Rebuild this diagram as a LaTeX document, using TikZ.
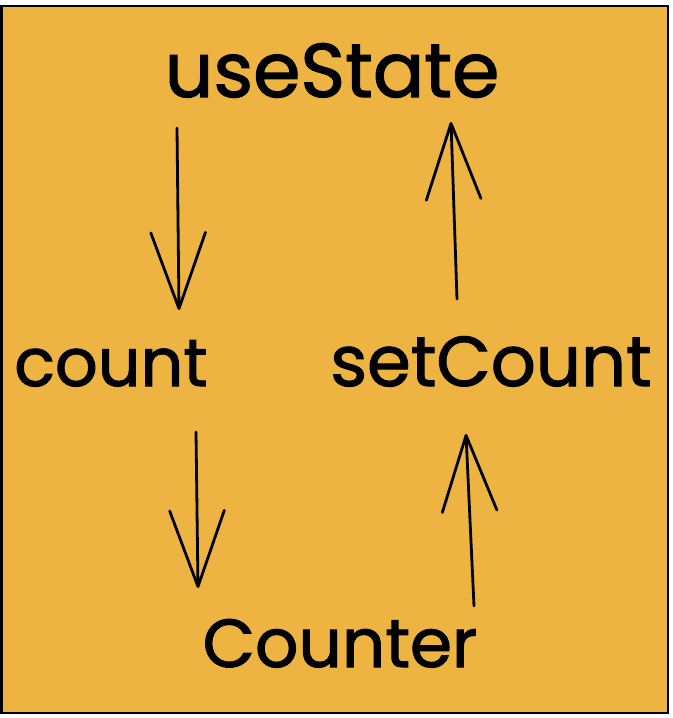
\documentclass[tikz,border=0pt]{standalone}
\usepackage{fontspec}
\setmainfont{Poppins}
\newfontfamily\lblfont[FakeBold=1.6]{Poppins}
\usetikzlibrary{arrows.meta}
\definecolor{bgorange}{RGB}{238,180,66}
\tikzset{
  lbl/.style={anchor=base, inner sep=0pt, font=\fontsize{44}{50}\lblfont},
  flow/.style={line width=2.1pt, line cap=round, line join=round,
    -{Straight Barb[length=57pt,width=41pt,line width=2.1pt,round]}},
  frame/.style={fill=bgorange, draw=black, line width=1.8pt}
}
\begin{document}
\begin{tikzpicture}[x=0.75pt,y=-0.75pt]
\useasboundingbox (0,0) rectangle (672,718);
\draw[frame] (1.5,6) rectangle (668,713);
\node[lbl] (us) at (332,97) {\resizebox{251pt}{!}{useState}};
\node[lbl] (ct) at (111,386) {\resizebox{145pt}{!}{count}};
\node[lbl] (sc) at (491,386) {\resizebox{241pt}{!}{setCount}};
\node[lbl] (cn) at (340,667) {\resizebox{206pt}{!}{Counter}};
\coordinate (a1s) at (177,128);
\coordinate (a1e) at (179,310);
\coordinate (a2s) at (196,432);
\coordinate (a2e) at (198,588);
\coordinate (a3s) at (474,606);
\coordinate (a3e) at (466,434);
\coordinate (a4s) at (457,299);
\coordinate (a4e) at (451,122);
\draw[flow] (a1s) -- (a1e);
\draw[flow] (a2s) -- (a2e);
\draw[flow] (a3s) -- (a3e);
\draw[flow] (a4s) -- (a4e);
\end{tikzpicture}
\end{document}
